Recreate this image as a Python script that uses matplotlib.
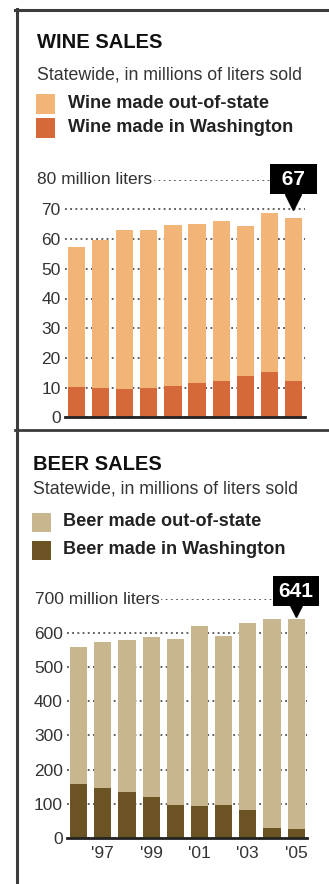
import matplotlib
matplotlib.use("Agg")
import matplotlib.pyplot as plt
from matplotlib.patches import Rectangle
from matplotlib.lines import Line2D

plt.rcParams['font.family'] = ['Liberation Sans', 'DejaVu Sans']

years = [1996, 1997, 1998, 1999, 2000, 2001, 2002, 2003, 2004, 2005]
year_labels = ['', "'97", '', "'99", '', "'01", '', "'03", '', "'05"]

# wine, millions of liters
wine_total = [57.3, 59.8, 63.2, 63.2, 64.8, 65.2, 66.0, 64.3, 68.8, 67.0]
wine_wa = [10.1, 9.7, 9.5, 9.9, 10.5, 11.6, 12.3, 13.9, 15.1, 12.3]

# beer, millions of liters
beer_total = [561, 575, 580, 588, 584, 621, 593, 631, 643, 641]
beer_wa = [157, 145, 133, 120, 97, 93, 97, 81, 28, 27]

W, H = 329, 884
fig = plt.figure(figsize=(W / 100, H / 100), dpi=100)
fig.patch.set_facecolor('white')


def fx(px):
    return px / W


def fy(py):
    return 1 - py / H


def panel(ax_box, xlim, ymax, step, total, wa, c_out, c_wa, top_label, label_x, xpad, z):
    left, top, right, bottom = ax_box
    ax = fig.add_axes([fx(left), fy(bottom), fx(right - left), (bottom - top) / H])
    ax.set_zorder(z)
    ax.patch.set_alpha(0)
    x = list(range(len(total)))
    out = [t - w for t, w in zip(total, wa)]
    ax.bar(x, wa, width=0.71, color=c_wa, zorder=2)
    ax.bar(x, out, bottom=wa, width=0.71, color=c_out, zorder=2)
    ax.set_xlim(*xlim)
    ax.set_ylim(0, ymax)
    ticks = list(range(0, ymax + 1, step))
    ax.set_yticks(ticks)
    ax.set_yticklabels([str(t) for t in ticks[:-1]] + [''], fontsize=12.5, color='#333333')
    ax.tick_params(axis='y', length=0, pad=3)
    ax.grid(axis='y', linestyle=(0, (1.2, 2.2)), color='#333333', linewidth=1.1, zorder=1)
    for s in ['left', 'right', 'top']:
        ax.spines[s].set_visible(False)
    ax.spines['bottom'].set_linewidth(2)
    ax.spines['bottom'].set_color('#222222')
    ax.spines['bottom'].set_zorder(4)
    ax.set_xticks(x)
    ax.set_xticklabels(year_labels, fontsize=12.5, color='#333333')
    ax.tick_params(axis='x', length=0, pad=xpad)
    # top label, white background hides the start of the dotted line
    unit = (right - left) / (xlim[1] - xlim[0])
    ax.text(xlim[0] - (left - label_x) / unit, ymax, top_label, fontsize=12.5,
            color='#333333', va='center', ha='left', zorder=5, clip_on=False,
            bbox=dict(boxstyle='square,pad=0.1', fc='white', ec='none'))
    return ax


def callout(ax, xi, label, y_box, y_tri):
    ax.plot(xi, y_tri, marker='v', markersize=11, color='black', zorder=6, clip_on=False)
    ax.text(xi, y_box, label, fontsize=15, fontweight='bold', color='white', ha='center',
            va='center', zorder=7, clip_on=False,
            bbox=dict(boxstyle='square,pad=0.28', fc='black', ec='none'))


# wine panel (drawn below the white cover so its cut-off year labels are hidden)
wine_ax = panel((65, 179.7, 305, 417.3), (-0.48, 9.48), 80, 10, wine_total, wine_wa,
                '#F2B577', '#D6693A', '80 million liters', 37, 10, 2)
callout(wine_ax, 9, ' 67 ', 80.2, 72.6)

# beer panel
beer_ax = panel((67, 599.2, 307, 837.7), (-0.48, 9.45), 700, 100, beer_total, beer_wa,
                '#C8B68E', '#6B5324', '700 million liters', 35, 6, 3)
callout(beer_ax, 9, '641', 724, 670)

# white cover for the beer panel
cover = Rectangle((fx(17), 0), 1, fy(430), transform=fig.transFigure, fc='white',
                  ec='none', zorder=2.5)
fig.add_artist(cover)

# frame lines
frame_c = '#3c3c3c'
fig.add_artist(Line2D([fx(15), 1], [fy(10), fy(10)], transform=fig.transFigure,
                      color=frame_c, linewidth=2.2, zorder=10))
fig.add_artist(Line2D([fx(16.5), fx(16.5)], [fy(9), 0], transform=fig.transFigure,
                      color=frame_c, linewidth=2.2, zorder=10))
fig.add_artist(Line2D([fx(15), 1], [fy(429.5), fy(429.5)], transform=fig.transFigure,
                      color=frame_c, linewidth=2.0, zorder=10))


# titles and legends
def header(x0, title_y, title, sub_y, sq_y, labels, colors, text_x):
    fig.text(fx(x0), fy(title_y), title, fontsize=14.5, fontweight='bold', color='#111111',
             va='baseline', ha='left', zorder=11)
    fig.text(fx(x0), fy(sub_y), 'Statewide, in millions of liters sold', fontsize=12.8,
             color='#333333', va='baseline', ha='left', zorder=11)
    for yy, lab, c in zip(sq_y, labels, colors):
        fig.add_artist(Rectangle((fx(x0 - 1), fy(yy + 9.5)), 19 / W, 19 / H,
                                 transform=fig.transFigure, fc=c, ec='none', zorder=11))
        fig.text(fx(text_x), fy(yy), lab, fontsize=13.1, fontweight='bold', color='#222222',
                 va='center', ha='left', zorder=11)


header(37, 48, 'WINE SALES', 79, [104, 128],
       ['Wine made out-of-state', 'Wine made in Washington'],
       ['#F2B577', '#D6693A'], 68)
header(33, 470, 'BEER SALES', 494, [522, 550],
       ['Beer made out-of-state', 'Beer made in Washington'],
       ['#C8B68E', '#6B5324'], 63)

fig.savefig('out.png', dpi=100, facecolor='white')
